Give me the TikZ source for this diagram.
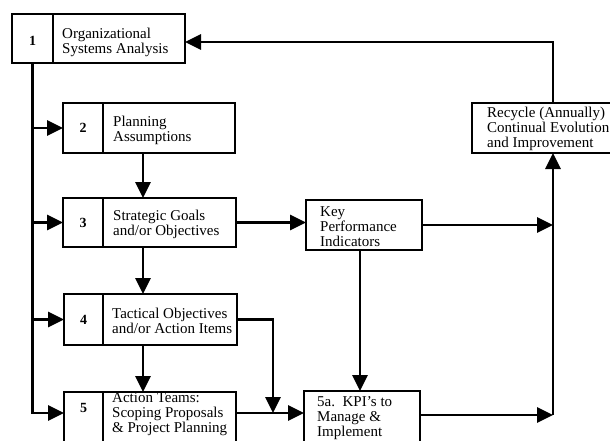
\documentclass[tikz,border=0pt]{standalone}
\usepackage{fontspec}
\setmainfont{Liberation Serif}
\usetikzlibrary{arrows.meta}
\begin{document}
\begin{tikzpicture}[x=1pt,y=-1pt,
  cell/.style={draw, line width=2.8pt, inner sep=0pt, outer sep=0pt},
  num/.style={font=\fontsize{14}{15}\selectfont\bfseries},
  lbl/.style={inner sep=0pt, align=left, font=\fontsize{15}{15}\selectfont},
  wire/.style={line width=2.9pt},
  link/.style={wire, -{Triangle[length=16pt,width=15pt]}}]
\clip (0,0) rectangle (610,441);

% step boxes: outer frame, number cell, text
\node[cell, minimum width=173pt, minimum height=49pt] (f1) at (98.5,38.5) {};
\node[cell, minimum width=41pt, minimum height=49pt] (n1) at (32.5,38.5) {};
\node[num] (d1) at (32.5,41) {1};
\node[lbl, anchor=west] (t1) at (62,42) {Organizational\\Systems Analysis};

\node[cell, minimum width=172pt, minimum height=50pt] (f2) at (149,128) {};
\node[cell, num, minimum width=40pt, minimum height=50pt] (n2) at (83,128) {2};
\node[lbl, anchor=west] (t2) at (113,130) {Planning\\Assumptions};

\node[cell, minimum width=173pt, minimum height=49pt] (f3) at (149.5,222.5) {};
\node[cell, num, minimum width=40pt, minimum height=49pt] (n3) at (83,222.5) {3};
\node[lbl, anchor=west] (t3) at (113,224) {Strategic Goals\\and/or Objectives};

\node[cell, minimum width=173pt, minimum height=51pt] (f4) at (150.5,319.5) {};
\node[cell, num, minimum width=39pt, minimum height=51pt] (n4) at (83.5,319.5) {4};
\node[lbl, anchor=west] (t4) at (112,321) {Tactical Objectives\\and/or Action Items};

\node[cell, minimum width=172pt, minimum height=60pt] (f5) at (150,422) {};
\node[cell, minimum width=39pt, minimum height=60pt] (n5) at (83.5,422) {};
\node[num] (d5) at (83.5,408) {5};
\node[lbl, anchor=north west] (t5) at (112,392) {Action Teams:\\Scoping Proposals\\\& Project Planning};

% measures and review
\node[cell, minimum width=116pt, minimum height=50pt] (k) at (364,225) {};
\node[lbl, anchor=north west] (tk) at (320,206) {Key\\Performance\\Indicators};

\node[cell, minimum width=116pt, minimum height=61pt] (k5) at (362,421.5) {};
\node[lbl, anchor=north west] (t5a) at (317,396) {5a.\ \ KPI's to\\Manage \&\\Implement};

\node[cell, minimum width=162pt, minimum height=50pt] (rc) at (553,128) {};
\node[lbl, anchor=north west] (tr) at (487,107) {Recycle (Annually)\\Continual Evolution\\and Improvement};

% helper positions
\coordinate (tb) at (32.5,413);
\coordinate (cx) at (143,0);
\coordinate (kx) at (360,0);
\coordinate (j) at (273,413);
\coordinate (rb) at (553,415);
\coordinate (tl) at (553,42);

% left feed line
\draw[link] (n1.south) |- (f5.west |- tb);
\draw[link] (n2.west -| tb) -- (n2.west);
\draw[link] (n3.west -| tb) -- (n3.west);
\draw[link] (n4.west -| tb) -- (n4.west);

% downward flow
\draw[link] (f2.south -| cx) -- (f3.north -| cx);
\draw[link] (f3.south -| cx) -- (f4.north -| cx);
\draw[link] (f4.south -| cx) -- (f5.north -| cx);

% to indicators and implementation
\draw[link] (f3.east) -- (f3.east -| k.west);
\draw[link] (k.south -| kx) -- (k5.north -| kx);
\draw[link] (f4.east) -| (j);
\draw[link] (j -| f5.east) -- (j -| k5.west);

% return loop
\draw[link] (k.east) -- (k.east -| rc.south);
\draw[link] (rb -| k5.east) -- (rb);
\draw[link] (rb) -- (rc.south);
\draw[link] (rc.north) |- (f1.east |- tl);
\end{tikzpicture}
\end{document}
